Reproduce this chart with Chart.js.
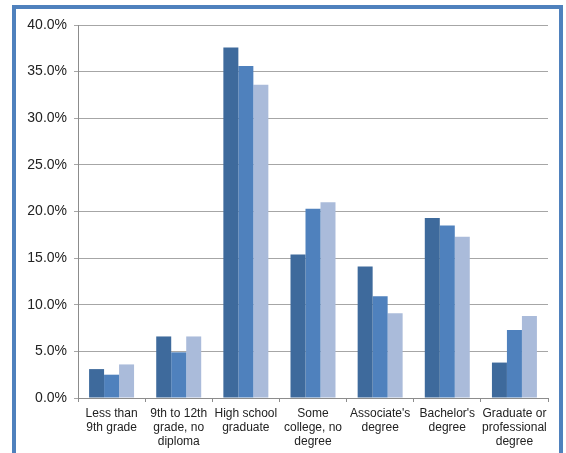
<!DOCTYPE html>
<html>
<head>
<meta charset="utf-8">
<script src="https://cdn.jsdelivr.net/npm/chart.js@4"></script>
<style>
  html, body { margin: 0; padding: 0; background: #fff; overflow: hidden; }
  #frame { position: absolute; left: 12px; top: 5px; width: 551px; height: 470px; border: 4px solid #4F81BD; box-sizing: border-box; }
  #wrap { position: absolute; left: 0; top: 0; width: 566px; height: 453px; }
</style>
</head>
<body>
<div id="frame"></div>
<div id="wrap"><canvas id="c" width="566" height="453"></canvas></div>
<script>
const categories = [
  ["Less than", "9th grade"],
  ["9th to 12th", "grade, no", "diploma"],
  ["High school", "graduate"],
  ["Some", "college, no", "degree"],
  ["Associate's", "degree"],
  ["Bachelor's", "degree"],
  ["Graduate or", "professional", "degree"]
];
const series1 = [3.1, 6.6, 37.6, 15.4, 14.1, 19.3, 3.8];
const series2 = [2.5, 4.9, 35.6, 20.3, 10.9, 18.5, 7.3];
const series3 = [3.6, 6.6, 33.6, 21.0, 9.1, 17.3, 8.8];
const yTicks = [0, 5, 10, 15, 20, 25, 30, 35, 40];

const xFont = { family: "Liberation Sans, Arial, sans-serif", size: 12, lineHeight: 1.2 };
const yFont = { family: "Liberation Sans, Arial, sans-serif", size: 14 };

new Chart(document.getElementById('c'), {
  type: 'bar',
  data: {
    labels: categories,
    datasets: [
      { data: series1, backgroundColor: '#3E6A9C' },
      { data: series2, backgroundColor: '#4F81BD' },
      { data: series3, backgroundColor: '#AABBDA' }
    ]
  },
  options: {
    responsive: false,
    animation: false,
    devicePixelRatio: 1,
    layout: { padding: { top: 25, right: 18, left: 0, bottom: 0 } },
    plugins: { legend: { display: false }, tooltip: { enabled: false } },
    datasets: { bar: { categoryPercentage: 0.67, barPercentage: 1.0 } },
    scales: {
      x: {
        grid: { offset: true, drawOnChartArea: false, drawTicks: true, tickLength: 4, color: '#8C8C8C' },
        border: { color: '#8C8C8C' },
        ticks: { color: '#222', font: xFont, padding: 4, maxRotation: 0, autoSkip: false },
        afterFit: (s) => { s.height = 453 - 398; }
      },
      y: {
        min: 0, max: 40,
        afterBuildTicks: (s) => { s.ticks = yTicks.map(v => ({ value: v })); },
        grid: { color: '#A6A6A6', tickLength: 4 },
        border: { color: '#8C8C8C' },
        ticks: { color: '#222', font: yFont, padding: 7, callback: (v) => v.toFixed(1) + '%' },
        afterFit: (s) => { s.width = 78; }
      }
    }
  }
});
</script>
</body>
</html>
